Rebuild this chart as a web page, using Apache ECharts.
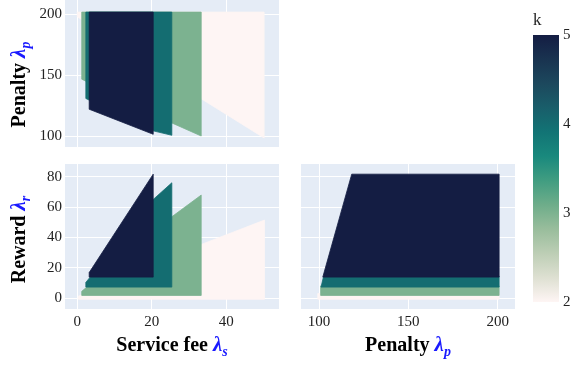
<!DOCTYPE html>
<html>
<head>
<meta charset="utf-8">
<script src="https://cdn.jsdelivr.net/npm/echarts@6/dist/echarts.min.js"></script>
<style>
  html, body { margin: 0; padding: 0; background: #ffffff; }
  #chart { width: 584px; height: 365px; }
</style>
</head>
<body>
<div id="chart"></div>
<script>
// Outcome levels k and the colour scale (cmocean "tempo")
const kLevels = [2, 3, 4, 5];
const kTicks = [2, 3, 4, 5];
const tempo = [
  'rgb(254,245,244)', 'rgb(222,224,210)', 'rgb(189,206,181)', 'rgb(153,189,156)',
  'rgb(110,173,138)', 'rgb(65,157,129)', 'rgb(25,137,125)', 'rgb(18,116,117)',
  'rgb(25,94,106)', 'rgb(28,72,93)', 'rgb(25,51,80)', 'rgb(20,29,67)'
];

// Tick values
const feeTicks = [0, 20, 40];
const penaltyTicks = [100, 150, 200];
const rewardTicks = [0, 20, 40, 60, 80];

// Region outlines per k: service fee λs vs penalty λp
const feePenaltyK2 = [[0, 201.6], [50.2, 201.6], [50.2, 98.6], [33.5, 130.3], [0, 197.8]];
const feePenaltyK3 = [[1.2, 201.6], [33.3, 201.6], [33.3, 100.2], [25.4, 110.9], [1.2, 146.7]];
const feePenaltyK4 = [[2.3, 201.6], [25.4, 201.6], [25.4, 100.8], [20.4, 104.4], [2.3, 130.9]];
const feePenaltyK5 = [[3.2, 201.6], [20.4, 201.6], [20.4, 101.6], [3.2, 122.1]];

// Region outlines per k: service fee λs vs reward λr
const feeRewardK2 = [[0.3, -0.8], [50.3, -0.8], [50.3, 51.4], [33.5, 35.5], [0.3, 1.2]];
const feeRewardK3 = [[1.2, 1.7], [33.3, 1.7], [33.3, 67.9], [25.4, 53.6], [1.2, 4.4]];
const feeRewardK4 = [[2.3, 7.2], [25.4, 7.2], [25.4, 76.0], [20.4, 65.0], [2.3, 10.3]];
const feeRewardK5 = [[3.2, 13.8], [20.4, 13.8], [20.4, 81.7], [3.2, 16.8]];

// Region outlines per k: penalty λp vs reward λr
const penaltyRewardK2 = [[99.3, -0.8], [200.8, -0.8], [200.8, 3.0], [99.3, 3.0]];
const penaltyRewardK3 = [[100.9, 1.7], [200.8, 1.7], [200.8, 8.0], [100.9, 8.0]];
const penaltyRewardK4 = [[101.1, 7.2], [200.8, 7.2], [200.8, 14.5], [102.6, 14.5]];
const penaltyRewardK5 = [[102.1, 13.8], [200.8, 13.8], [200.8, 81.7], [118.3, 81.7]];

const SERIF = 'Liberation Serif, Times New Roman, serif';
const BG = '#E5ECF6';

function regionSeries(vertices, k, idx) {
  return {
    type: 'custom',
    xAxisIndex: idx,
    yAxisIndex: idx,
    data: vertices.map(v => [v[0], v[1], k]),
    encode: { x: 0, y: 1 },
    clip: true,
    silent: true,
    animation: false,
    renderItem(params, api) {
      if (params.context.rendered) return;
      params.context.rendered = true;
      const pts = vertices.map(v => api.coord(v));
      const c = api.visual('color');
      return {
        type: 'polygon',
        shape: { points: pts },
        style: { fill: c, stroke: c, lineWidth: 0.8, lineJoin: 'round' }
      };
    }
  };
}

const panels = [
  [feePenaltyK2, feePenaltyK3, feePenaltyK4, feePenaltyK5],
  [feeRewardK2, feeRewardK3, feeRewardK4, feeRewardK5],
  [penaltyRewardK2, penaltyRewardK3, penaltyRewardK4, penaltyRewardK5]
];
const series = [];
panels.forEach((regions, idx) => {
  regions.forEach((verts, j) => series.push(regionSeries(verts, kLevels[j], idx)));
});
const regionSeriesIdx = series.map((s, i) => i);

// Colour bar: a gradient rectangle spanning k = 2 … 5 on its own axis
series.push({
  type: 'custom',
  xAxisIndex: 3,
  yAxisIndex: 3,
  silent: true,
  animation: false,
  data: [[0, kTicks[0]], [1, kTicks[kTicks.length - 1]]],
  renderItem(params, api) {
    if (params.context.rendered) return;
    params.context.rendered = true;
    const p0 = api.coord([0, kTicks[0]]);
    const p1 = api.coord([1, kTicks[kTicks.length - 1]]);
    return {
      type: 'rect',
      shape: { x: p0[0], y: p1[1], width: p1[0] - p0[0], height: p0[1] - p1[1] },
      style: {
        fill: {
          type: 'linear', x: 0, y: 1, x2: 0, y2: 0,
          colorStops: tempo.map((c, i) => ({ offset: i / (tempo.length - 1), color: c }))
        }
      }
    };
  }
});

const tickLabel = { fontFamily: SERIF, fontSize: 15, color: '#222' };
const splitLine = { show: true, lineStyle: { color: '#ffffff', width: 1 } };

function titleRich() {
  return {
    b: { fontFamily: SERIF, fontWeight: 'bold', fontSize: 20, color: '#000', lineHeight: 26 },
    l: { fontFamily: SERIF, fontWeight: 'bold', fontStyle: 'italic', fontSize: 21, color: '#1a1aff', lineHeight: 26 },
    s: { fontFamily: SERIF, fontWeight: 'bold', fontStyle: 'italic', fontSize: 14, color: '#1a1aff',
         lineHeight: 12, verticalAlign: 'bottom' }
  };
}

function valueAxis(gridIndex, min, max, ticks, showLabels, extra) {
  return Object.assign({
    type: 'value',
    gridIndex,
    min, max,
    axisLine: { show: false },
    axisTick: { show: false, customValues: ticks },
    axisLabel: Object.assign({ show: showLabels, customValues: ticks, margin: 6 }, tickLabel),
    splitLine
  }, extra || {});
}

const option = {
  animation: false,
  backgroundColor: '#ffffff',
  title: {
    text: 'k', left: 528, top: 7,
    textStyle: { fontFamily: SERIF, fontSize: 17, fontWeight: 'normal', color: '#222' }
  },
  grid: [
    { left: 65, top: 0, width: 214, height: 147, backgroundColor: BG, show: true, borderWidth: 0 },
    { left: 65, top: 164, width: 214, height: 145, backgroundColor: BG, show: true, borderWidth: 0 },
    { left: 301, top: 164, width: 214, height: 145, backgroundColor: BG, show: true, borderWidth: 0 },
    { left: 533, top: 35, width: 26, height: 267, show: false }
  ],
  xAxis: [
    valueAxis(0, -3.3, 54.2, feeTicks, false),
    valueAxis(1, -3.3, 54.2, feeTicks, true, {
      name: '{b|Service fee }{l|λ}{s|s}', nameLocation: 'middle', nameGap: 24,
      nameTextStyle: { rich: titleRich() }
    }),
    valueAxis(2, 89.9, 209.7, penaltyTicks, true, {
      name: '{b|Penalty }{l|λ}{s|p}', nameLocation: 'middle', nameGap: 24,
      nameTextStyle: { rich: titleRich() }
    }),
    { type: 'value', gridIndex: 3, show: false, min: 0, max: 1 }
  ],
  yAxis: [
    valueAxis(0, 91.2, 211.5, penaltyTicks, true, {
      name: '{b|Penalty }{l|λ}{s|p}', nameLocation: 'middle', nameGap: 32, nameRotate: 90,
      nameTextStyle: { rich: titleRich(), padding: [0, 22, 0, 0] },
      axisLabel: Object.assign({ customValues: penaltyTicks, margin: 3 }, tickLabel)
    }),
    valueAxis(1, -7.24, 88.4, rewardTicks, true, {
      name: '{b|Reward }{l|λ}{s|r}', nameLocation: 'middle', nameGap: 32, nameRotate: 90,
      nameTextStyle: { rich: titleRich(), padding: [0, 6, 0, 0] },
      axisLabel: Object.assign({ customValues: rewardTicks, margin: 3 }, tickLabel)
    }),
    valueAxis(2, -7.24, 88.4, rewardTicks, false),
    {
      type: 'value', gridIndex: 3, position: 'right', min: 2, max: 5, interval: 1,
      axisLine: { show: false }, axisTick: { show: false }, splitLine: { show: false },
      axisLabel: Object.assign({ margin: 4 }, tickLabel)
    }
  ],
  visualMap: {
    type: 'continuous',
    show: false,
    min: kTicks[0], max: kTicks[kTicks.length - 1],
    dimension: 2,
    seriesIndex: regionSeriesIdx,
    inRange: { color: tempo }
  },
  series
};

echarts.init(document.getElementById('chart'), null, { renderer: 'canvas' }).setOption(option);
</script>
</body>
</html>
